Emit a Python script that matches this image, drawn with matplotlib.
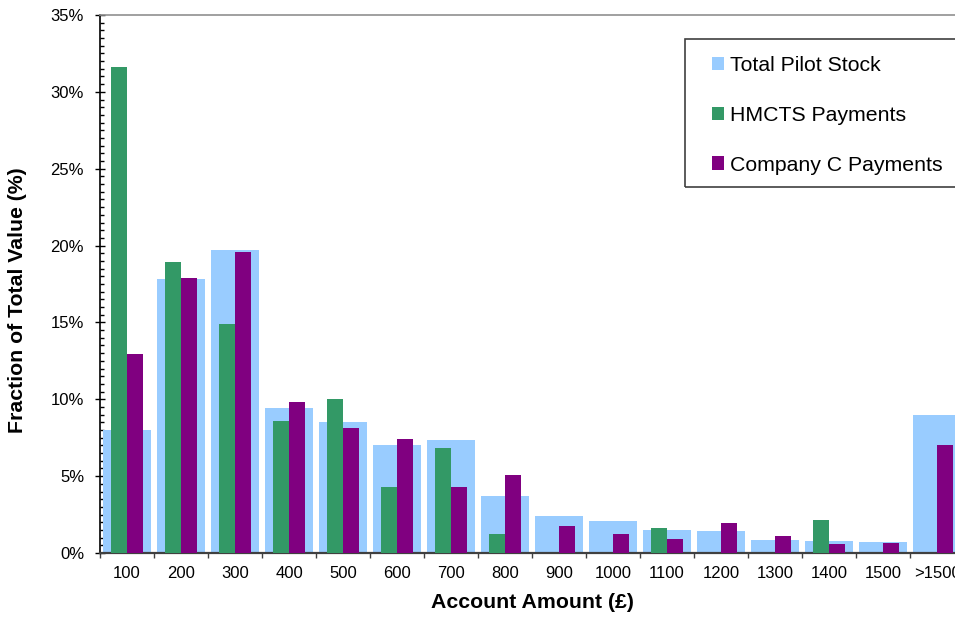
import numpy as np
import matplotlib
matplotlib.use("Agg")
import matplotlib.pyplot as plt
from matplotlib.ticker import MultipleLocator, PercentFormatter
from matplotlib.patches import Rectangle

plt.rcParams['font.family'] = ['Liberation Sans', 'DejaVu Sans']

# Account amount bands
categories = ['100', '200', '300', '400', '500', '600', '700', '800',
              '900', '1000', '1100', '1200', '1300', '1400', '1500', '>1500']

# Fraction of total value (%) per band
total_pilot = [8.0, 17.85, 19.7, 9.45, 8.5, 7.0, 7.33, 3.7,
               2.4, 2.06, 1.48, 1.41, 0.82, 0.76, 0.69, 8.96]
hmcts = [31.6, 18.95, 14.9, 8.6, 10.0, 4.27, 6.8, 1.21,
         0.0, 0.0, 1.6, 0.0, 0.0, 2.13, 0.0, 0.0]
company_c = [12.97, 17.9, 19.55, 9.85, 8.15, 7.4, 4.27, 5.05,
             1.74, 1.21, 0.89, 1.93, 1.08, 0.56, 0.63, 7.0]

W, H = 955, 617
fig = plt.figure(figsize=(W / 100, H / 100), dpi=100)
# plot area runs past the right edge of the image, as in the original
ax = fig.add_axes([100 / W, 1 - 553 / H, 864 / W, 538 / H])

x = np.arange(len(categories))
ax.bar(x, total_pilot, width=0.9, color='#99CCFF', label='Total Pilot Stock', zorder=2)
ax.bar(x - 0.15, hmcts, width=0.3, color='#339966', label='HMCTS Payments', zorder=3)
ax.bar(x + 0.15, company_c, width=0.3, color='#800080', label='Company C Payments', zorder=3)

ax.set_xlim(-0.5, len(categories) - 0.5)
ax.set_ylim(0, 35)

# axes styling
ax.spines['left'].set_color('black')
ax.spines['left'].set_linewidth(1.2)
ax.spines['bottom'].set_color('#404040')
ax.spines['bottom'].set_linewidth(1.6)
ax.spines['top'].set_color('#909090')
ax.spines['top'].set_linewidth(1.2)
ax.spines['right'].set_color('#909090')

ax.yaxis.set_major_locator(MultipleLocator(5))
ax.yaxis.set_minor_locator(MultipleLocator(0.5))
ax.yaxis.set_major_formatter(PercentFormatter(decimals=0))
ax.tick_params(axis='y', which='major', direction='inout', length=7, width=1,
               labelsize=12, pad=8)
ax.tick_params(axis='y', which='minor', direction='in', length=3, width=1)

ax.set_xticks(x)
ax.set_xticklabels(categories)
ax.set_xticks(np.arange(-0.5, len(categories)), minor=True)
ax.tick_params(axis='x', which='major', length=0, labelsize=12, pad=9)
ax.tick_params(axis='x', which='minor', direction='out', length=3.5, width=1,
               color='#404040')

ax.set_xlabel('Account Amount (£)', fontsize=15.3, fontweight='bold', va='center')
ax.xaxis.set_label_coords(532 / W, 1 - 603 / H, transform=fig.transFigure)
ax.set_ylabel('Fraction of Total Value (%)', fontsize=15.3, fontweight='bold', va='center')
ax.yaxis.set_label_coords(18 / W, 1 - 300 / H, transform=fig.transFigure)

# legend with a box that continues past the right edge
fig.patches.append(Rectangle((685 / W, 1 - 187 / H), 300 / W, 148 / H,
                             transform=fig.transFigure, fill=False,
                             edgecolor='#404040', linewidth=1.2))
fig.legend(loc='upper left', bbox_to_anchor=(712 / W, 1 - 56 / H),
           frameon=False, fontsize=15.3, borderpad=0, borderaxespad=0,
           handlelength=0.57, handleheight=0.6, handletextpad=0.28,
           labelspacing=1.45)

fig.savefig('out.png', dpi=100)
